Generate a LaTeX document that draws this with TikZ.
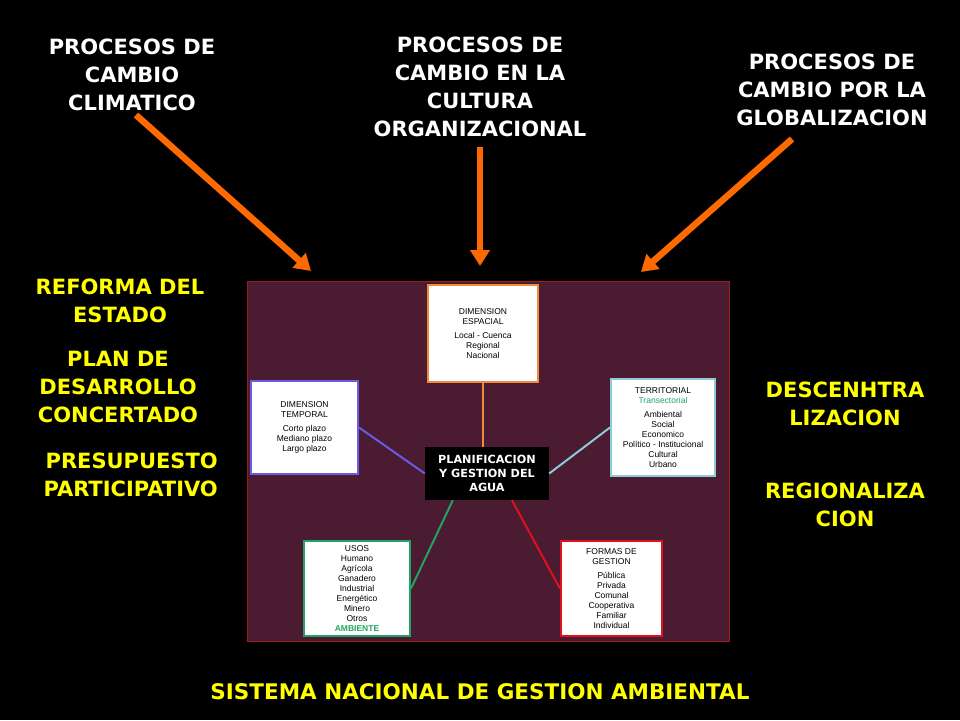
\documentclass[tikz,border=0pt]{standalone}
\usepackage{fontspec}
\setmainfont{Liberation Sans}
\newfontfamily\bigfont{DejaVu Sans}[BoldFont={DejaVu Sans Bold}]
\usetikzlibrary{arrows.meta}
\definecolor{fondo}{HTML}{4a1b31}
\definecolor{marco}{HTML}{9a1c1c}
\definecolor{naranja}{HTML}{ff6a00}
\definecolor{espacial}{HTML}{f08a3c}
\definecolor{temporal}{HTML}{6a5ae6}
\definecolor{territorial}{HTML}{8ccbd8}
\definecolor{usos}{HTML}{1fa463}
\definecolor{formas}{HTML}{e0101c}
\definecolor{amarillo}{HTML}{ffff00}
\tikzstyle{titulo}=[text=white,
                    align=center,
                    inner sep=0pt,
                    font=\bigfont\bfseries\fontsize{21}{28}\selectfont
                   ]
\tikzstyle{lema}=[text=amarillo,
                  align=center,
                  inner sep=0pt,
                  font=\bigfont\bfseries\fontsize{21}{28}\selectfont
                 ]
\tikzstyle{caja}=[rectangle,
                  fill=white,
                  line width=2pt,
                  align=center,
                  inner sep=0pt,
                  font=\fontsize{8.5}{10}\selectfont
                 ]
\tikzstyle{flecha}=[naranja, line width=6.5pt, -{Triangle[width=19pt,length=16pt]}]
\tikzstyle{enlace}=[line width=2pt]

\begin{document}
\begin{tikzpicture}[x=1pt, y=-1pt]
  \fill[black] (0,0) rectangle (960,720);
  \useasboundingbox (0,0) rectangle (960,720);

  \node at (132, 75) (clima) [titulo] {PROCESOS DE\\CAMBIO\\CLIMATICO};
  \node at (480, 87) (cultura) [titulo] {PROCESOS DE\\CAMBIO EN LA\\CULTURA\\ORGANIZACIONAL};
  \node at (832, 90) (global) [titulo] {PROCESOS DE\\CAMBIO POR LA\\GLOBALIZACION};

  \coordinate (f1) at (311, 271);
  \coordinate (f2) at (480, 266);
  \coordinate (f3) at (641, 272);
  \draw[flecha] (136, 115) -- (f1);
  \draw[flecha] (cultura.south |- 0,147) -- (f2);
  \draw[flecha] (792, 139) -- (f3);

  \node at (120, 301) (reforma) [lema] {REFORMA DEL\\ESTADO};
  \node at (118, 387) (plan) [lema] {PLAN DE\\DESARROLLO\\CONCERTADO};
  \node at (218, 475) (presupuesto) [lema, anchor=east, align=right] {PRESUPUESTO\\PARTICIPATIVO};
  \node at (845, 404) (descen) [lema] {DESCENHTRA\\LIZACION};
  \node at (845, 505) (region) [lema] {REGIONALIZA\\CION};

  \draw[marco, fill=fondo, line width=1pt] (247, 281) rectangle (729, 641);

  \node at (483, 333.5) (esp) [caja, draw=espacial, minimum width=110pt, minimum height=97pt]
    {DIMENSION\\ESPACIAL\\[4pt]Local - Cuenca\\Regional\\Nacional};
  \node at (304.5, 427.5) (temp) [caja, draw=temporal, minimum width=107pt, minimum height=93pt]
    {DIMENSION\\TEMPORAL\\[4pt]Corto plazo\\Mediano plazo\\Largo plazo};
  \node at (663, 427.5) (terr) [caja, draw=territorial, minimum width=104pt, minimum height=97pt]
    {TERRITORIAL\\\textcolor{usos}{Transectorial}\\[4pt]Ambiental\\Social\\Economico\\Pol\'itico - Institucional\\Cultural\\Urbano};
  \node at (357, 588.5) (usos) [caja, draw=usos, minimum width=106pt, minimum height=95pt]
    {USOS\\Humano\\Agr\'icola\\Ganadero\\Industrial\\Energ\'etico\\Minero\\Otros\\\textcolor{usos}{\textbf{AMBIENTE}}};
  \node at (611.5, 588.5) (formas) [caja, draw=formas, minimum width=101pt, minimum height=95pt]
    {FORMAS DE\\GESTION\\[4pt]P\'ublica\\Privada\\Comunal\\Cooperativa\\Familiar\\Individual};

  \node at (487, 473.5) (agua) [rectangle, fill=black, text=white, align=center, inner sep=0pt,
    minimum width=124pt, minimum height=53pt, font=\bigfont\bfseries\fontsize{11.2}{14}\selectfont]
    {PLANIFICACION\\Y GESTION DEL\\AGUA};

  \draw[enlace, espacial] (esp.south) -- (agua.north -| esp.south);
  \draw[enlace, temporal] (temp.east) -- (agua.west);
  \draw[enlace, territorial] (terr.west) -- (agua.east);
  \draw[enlace, usos] (agua.218) -- (usos.east);
  \draw[enlace, formas] (agua.313) -- (formas.west);

  \node at (480, 692) (sistema) [lema, font=\bigfont\bfseries\fontsize{21.5}{26}\selectfont]
    {SISTEMA NACIONAL DE GESTION AMBIENTAL};
\end{tikzpicture}
\end{document}
